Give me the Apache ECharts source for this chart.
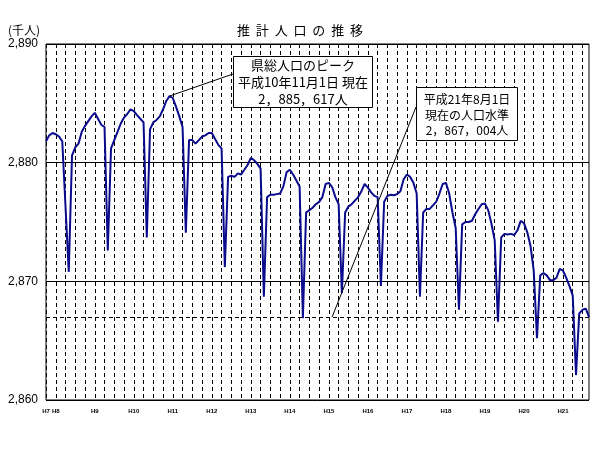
<!DOCTYPE html>
<html><head><meta charset="utf-8">
<script src="https://cdn.jsdelivr.net/npm/echarts@6/dist/echarts.min.js"></script>
<style>html,body{margin:0;padding:0;background:#fff}#c{width:600px;height:450px}</style>
</head><body><div id="c"></div>
<script>
// monthly estimated population (thousand persons), 1995-09 .. 2009-08
const startYear = 1995, startMonth = 9;
const population = [
 2881.8,2882.3,2882.5,2882.4,2882.2,2881.8,2876.3,2870.8,2880.6,2881.3,2881.6,2882.6,
 2883.1,2883.5,2883.9,2884.2,2883.7,2883.2,2883.0,2872.6,2881.2,2881.9,2882.6,2883.3,
 2883.8,2884.1,2884.5,2884.35,2884.0,2883.7,2883.4,2873.7,2882.8,2883.4,2883.6,2883.9,
 2884.5,2885.2,2885.617,2885.45,2884.7,2883.9,2883.0,2874.1,2881.9,2881.9,2881.6,2881.9,
 2882.2,2882.3,2882.5,2882.5,2882.0,2881.5,2881.2,2871.2,2878.8,2878.9,2878.8,2879.1,
 2879.0,2879.4,2879.8,2880.4,2880.2,2879.9,2879.5,2868.7,2877.1,2877.3,2877.3,2877.35,
 2877.4,2878.0,2879.2,2879.4,2879.0,2878.5,2878.0,2866.9,2875.8,2876.0,2876.2,2876.5,
 2876.7,2877.1,2878.2,2878.3,2877.95,2877.1,2876.5,2869.0,2875.8,2876.3,2876.5,2876.8,
 2877.1,2877.6,2878.2,2877.9,2877.5,2877.2,2877.1,2869.6,2876.7,2877.2,2877.3,2877.25,
 2877.35,2877.6,2878.6,2879.0,2878.8,2878.3,2877.4,2868.7,2875.8,2876.1,2876.1,2876.4,
 2876.7,2877.4,2878.2,2878.3,2877.4,2875.8,2874.5,2867.6,2874.8,2875.0,2875.0,2875.1,
 2875.65,2876.1,2876.5,2876.55,2876.0,2874.85,2873.45,2866.6,2873.7,2874.0,2873.95,2874.0,
 2873.9,2874.3,2875.1,2874.9,2874.15,2873.0,2870.9,2865.2,2870.5,2870.7,2870.5,2870.1,
 2870.1,2870.3,2871.05,2870.9,2870.3,2869.6,2868.8,2862.1,2867.3,2867.6,2867.7,2867.0
];
const months = population.map(function(_, i){
  const m = startMonth - 1 + i;
  return (startYear + Math.floor(m / 12)) + '-' + String(m % 12 + 1).padStart(2, '0');
});
const yearLabels = ['H7','H8','H9','H10','H11','H12','H13','H14','H15','H16','H17','H18','H19','H20','H21'];
const yMin = 2860, yMax = 2890, yStep = 10;
const peakMonth = '1998-11', peakValue = 2885.617;
const nowValue = 2867.004, nowPointerMonth = '2003-01';
const titleText = '推  計  人  口  の  推  移';
const unitText = '(千人)';
const notePeak = ['県総人口のピーク', '平成10年11月1日 現在', '2，885，617人'];
const noteNow = ['平成21年8月1日', '現在の人口水準', '2，867，004人'];

function isLabelIdx(idx) {
  return idx === 0 || months[idx].slice(5) === '12';
}
const chart = echarts.init(document.getElementById('c'), null, {renderer: 'canvas'});
chart.setOption({
  backgroundColor: '#fff',
  animation: false,
  title: {
    text: titleText, left: 'center', top: 19,
    textStyle: {fontSize: 13, fontWeight: 'normal', color: '#000', fontFamily: '"Noto Sans CJK JP"'}
  },
  grid: {left: 46, right: 11, top: 44, bottom: 50, show: true, borderColor: '#000', borderWidth: 1, backgroundColor: 'transparent'},
  xAxis: {
    type: 'category', data: months, boundaryGap: false,
    axisLine: {show: false}, axisTick: {show: false},
    axisLabel: {
      interval: function(idx){ return isLabelIdx(idx); },
      formatter: function(val, idx){
        if (idx === 0) return yearLabels[0];
        const y = parseInt(val.slice(0, 4), 10);
        return yearLabels[y + 1 - startYear] || '';
      },
      fontSize: 6, fontWeight: 'bold', color: '#000', margin: 8, fontFamily: '"Liberation Sans"'
    },
    splitLine: {show: true, interval: function(idx){ return idx % 3 === 0; }, lineStyle: {color: '#000', width: 1, type: [4, 3]}}
  },
  yAxis: {
    type: 'value', min: yMin, max: yMax, interval: yStep,
    name: unitText, nameLocation: 'end', nameGap: 8,
    nameTextStyle: {align: 'right', fontSize: 12, color: '#000', padding: [0, 6, 0, 0], fontFamily: '"Noto Sans CJK JP"'},
    axisLine: {show: false}, axisTick: {show: false},
    axisLabel: {formatter: function(v){ return v.toLocaleString('en-US'); }, fontSize: 12, color: '#000', margin: 8, fontFamily: '"Liberation Sans"'},
    splitLine: {show: true, lineStyle: {color: '#000', width: 1}}
  },
  series: [{
    type: 'line', data: population, showSymbol: false, silent: true,
    lineStyle: {color: '#0a0a8c', width: 2},
    itemStyle: {color: '#0a0a8c'},
    markLine: {
      silent: true, symbol: ['none', 'none'], label: {show: false},
      lineStyle: {color: '#000', width: 1, type: 'solid'},
      data: [
        {yAxis: nowValue, lineStyle: {type: [4, 3], color: '#000', width: 1}},
        [{coord: [peakMonth, peakValue]}, {x: 233, y: 74}],
        [{coord: [nowPointerMonth, nowValue]}, {x: 416, y: 107}]
      ]
    }
  }],
  graphic: [
    {type: 'rect', z: 100, shape: {x: 233.5, y: 56.5, width: 139, height: 51}, style: {fill: '#fff', stroke: '#000', lineWidth: 1}},
    {type: 'text', z: 101, x: 303, y: 82, style: {text: notePeak.join('\n'), fill: '#000', font: '13px "Noto Sans CJK JP"', textAlign: 'center', textVerticalAlign: 'middle', lineHeight: 17}},
    {type: 'rect', z: 100, shape: {x: 416.5, y: 87.5, width: 101, height: 53}, style: {fill: '#fff', stroke: '#000', lineWidth: 1}},
    {type: 'text', z: 101, x: 467, y: 115, style: {text: noteNow.join('\n'), fill: '#000', font: '12px "Noto Sans CJK JP"', textAlign: 'center', textVerticalAlign: 'middle', lineHeight: 15.5}}
  ]
});
</script>
</body></html>
